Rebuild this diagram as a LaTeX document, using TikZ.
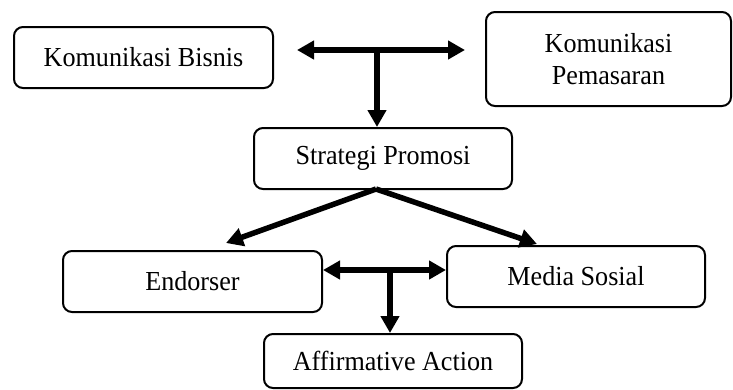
\documentclass[tikz,border=0pt]{standalone}
\usepackage{fontspec}
\setmainfont{Liberation Serif}[FakeStretch=0.95]
\usetikzlibrary{arrows.meta}
\begin{document}
\begin{tikzpicture}[x=1pt,y=-1pt,
  box/.style={draw,line width=2pt,rounded corners=9pt,inner sep=0pt,align=center,font=\fontsize{27.5}{32}\selectfont},
  conn/.style={line width=5.5pt,-{Triangle[length=17pt,width=18pt]}},
  dconn/.style={line width=5.5pt,{Triangle[length=17pt,width=18pt]}-{Triangle[length=17pt,width=18pt]}}]
\useasboundingbox (0,0) rectangle (733,389);
\node[box,minimum width=259pt,minimum height=61pt] (bisnis) at (143.5,57.5) {Komunikasi Bisnis};
\node[box,minimum width=245pt,minimum height=94pt] (pemasaran) at (608.5,59) {Komunikasi\\Pemasaran};
\node[box,minimum width=258pt,minimum height=61pt] (strategi) at (383,158.5) {Strategi Promosi};
\node[box,minimum width=259pt,minimum height=61pt] (endorser) at (192.5,281.5) {Endorser};
\node[box,minimum width=258pt,minimum height=61pt] (media) at (576,276.5) {Media Sosial};
\node[box,minimum width=258pt,minimum height=54pt] (affirm) at (393,361) {Affirmative Action};
% top connectors
\coordinate (l1) at (297,50);
\coordinate (r1) at (465,50);
\coordinate (j1) at (377,50);
\draw[dconn] (l1) -- (r1);
\draw[conn] (j1) -- (j1 |- strategi.north);
% from strategi
\coordinate (s0) at (376,189);
\coordinate (tl) at (226,243);
\coordinate (tr) at (537,244);
\draw[conn] (s0) -- (tl);
\draw[conn] (s0) -- (tr);
% bottom connectors
\coordinate (j2) at (390,270);
\draw[dconn] (endorser.east |- j2) -- (media.west |- j2);
\draw[conn] (j2) -- (j2 |- affirm.north);
\end{tikzpicture}
\end{document}
